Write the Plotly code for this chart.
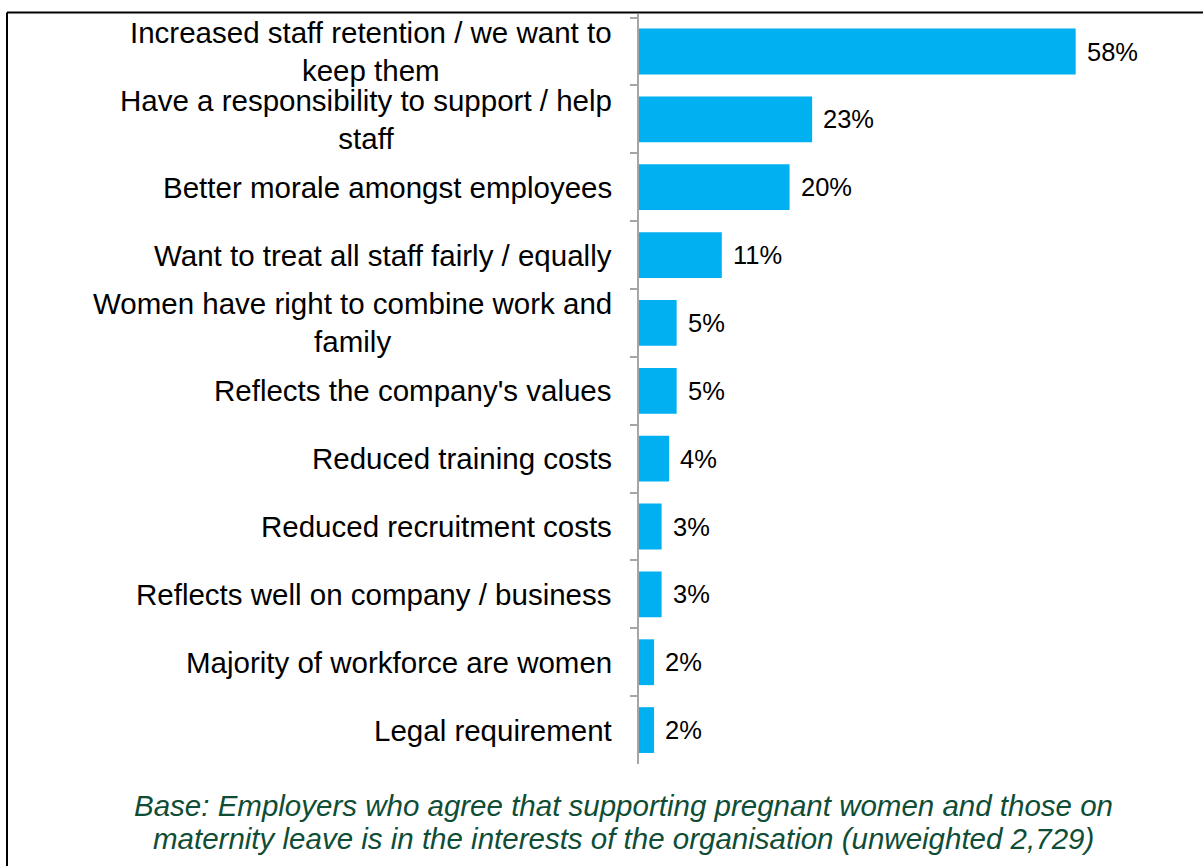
import plotly.graph_objects as go

# Reasons employers give for supporting pregnant women / mothers on maternity leave
reasons = [
    "Increased staff retention / we want to<br>keep them",
    "Have a responsibility to support / help<br>staff",
    "Better morale amongst employees",
    "Want to treat all staff fairly / equally",
    "Women have right to combine work and<br>family",
    "Reflects the company's values",
    "Reduced training costs",
    "Reduced recruitment costs",
    "Reflects well on company / business",
    "Majority of workforce are women",
    "Legal requirement",
]
shares = [58, 23, 20, 11, 5, 5, 4, 3, 3, 2, 2]
base_note_lines = [
    "Base: Employers who agree that supporting pregnant women and those on",
    "maternity leave is in the interests of the organisation (unweighted 2,729)",
]

W, H = 1203, 866
L, R, T, B = 639, 37, 14, 102
plot_w = W - L - R
plot_h = H - T - B


def px_to_paper_x(px):
    return (px - L) / plot_w


def px_to_paper_y(py):
    return (H - B - py) / plot_h


FONT = "Liberation Sans, Arial, sans-serif"

fig = go.Figure(
    go.Bar(
        x=shares,
        y=reasons,
        orientation="h",
        marker=dict(color="#00B0F0", line=dict(width=0)),
        hoverinfo="skip",
    )
)

annotations = []
# Category labels (multi-line labels centred, block right-aligned next to the axis)
for r in reasons:
    annotations.append(dict(
        x=px_to_paper_x(614), xref="paper", y=r, yref="y",
        text=r, showarrow=False, xanchor="right", yanchor="middle",
        align="center", font=dict(family=FONT, size=29.5, color="#000000"),
    ))
# Value labels at the end of each bar
for r, v in zip(reasons, shares):
    annotations.append(dict(
        x=v, xref="x", y=r, yref="y", text=f"{v}%", showarrow=False,
        xanchor="left", yanchor="middle", xshift=9,
        font=dict(family=FONT, size=25.5, color="#000000"),
    ))
# Base note, one annotation per line for tighter line spacing
for i, line in enumerate(base_note_lines):
    annotations.append(dict(
        x=px_to_paper_x(623), xref="paper", y=px_to_paper_y(805 + 33 * i), yref="paper",
        text=line, showarrow=False, xanchor="center", yanchor="middle",
        font=dict(family=FONT, size=29.5, color="#0f4d36", style="italic"),
    ))

shapes = [
    # outer frame (left and top edges)
    dict(type="line", xref="paper", yref="paper",
         x0=px_to_paper_x(7), x1=px_to_paper_x(7),
         y0=px_to_paper_y(12.5), y1=px_to_paper_y(880),
         line=dict(color="#000000", width=2)),
    dict(type="line", xref="paper", yref="paper",
         x0=px_to_paper_x(7), x1=px_to_paper_x(1220),
         y0=px_to_paper_y(12.5), y1=px_to_paper_y(12.5),
         line=dict(color="#000000", width=2)),
]

fig.update_layout(
    width=W, height=H,
    margin=dict(l=L, r=R, t=T, b=B, pad=0),
    paper_bgcolor="#FFFFFF", plot_bgcolor="#FFFFFF",
    bargap=0.325,
    showlegend=False,
    xaxis=dict(range=[0, 70], visible=False, fixedrange=True),
    yaxis=dict(
        autorange="reversed",
        showticklabels=False,
        showline=True, linecolor="#A6A6A6", linewidth=1.5,
        ticks="outside", tickson="boundaries", ticklen=7,
        tickcolor="#A6A6A6", tickwidth=1.5,
        showgrid=False, zeroline=False, fixedrange=True,
    ),
    annotations=annotations,
    shapes=shapes,
    font=dict(family=FONT),
)

fig.write_html("out.html")
